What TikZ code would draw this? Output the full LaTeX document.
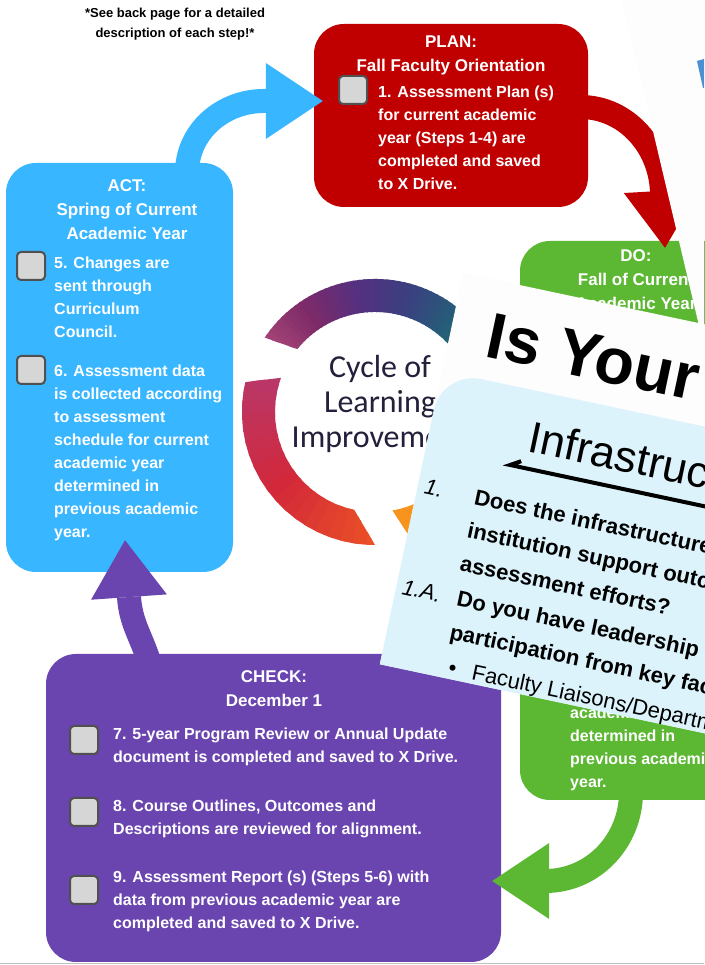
\documentclass[tikz,border=0pt]{standalone}
\usepackage{fontspec}
\setmainfont{Liberation Sans}
\newfontfamily\cyclefont{Carlito}
\usetikzlibrary{arrows.meta,positioning}

\definecolor{plancol}{RGB}{192,0,0}
\definecolor{docol}{RGB}{92,184,50}
\definecolor{checkcol}{RGB}{106,69,176}
\definecolor{actcol}{RGB}{56,182,255}
\definecolor{tickfill}{RGB}{214,214,214}
\definecolor{tickedge}{RGB}{80,80,80}
\definecolor{cardblue}{RGB}{220,243,251}
\definecolor{cardwhite}{RGB}{253,253,253}
\definecolor{pageblue}{RGB}{74,144,210}
\definecolor{cycletext}{RGB}{35,32,60}
% colours of the ring, top arc then left arc
\definecolor{ringa}{RGB}{170,70,120}
\definecolor{ringb}{RGB}{125,42,104}
\definecolor{ringc}{RGB}{85,48,128}
\definecolor{ringd}{RGB}{58,64,128}
\definecolor{ringe}{RGB}{37,95,120}
\definecolor{ringf}{RGB}{27,122,102}
\definecolor{ringg}{RGB}{184,56,107}
\definecolor{ringh}{RGB}{210,40,58}
\definecolor{ringi}{RGB}{238,84,36}
\definecolor{ringj}{RGB}{247,148,29}

\tikzset{
  stagebox/.style={rounded corners=30pt, inner sep=0pt},
  boxtitle/.style={text=white, font=\fontsize{17}{24}\selectfont\bfseries, align=center, inner sep=0pt, anchor=north},
  boxitem/.style={text=white, font=\fontsize{16}{23}\selectfont\bfseries, align=left, inner sep=0pt, anchor=north west},
  tickbox/.style={draw=tickedge, fill=tickfill, line width=2pt, rounded corners=4pt, minimum size=28pt, inner sep=0pt},
  flow/.style={draw=#1, line width=24pt, -{Triangle[length=57pt, width=76pt, line width=0pt]}},
  cardline/.style={anchor=base west, inner sep=0pt, transform shape, font=\fontsize{22}{22}\selectfont\bfseries},
}

\begin{document}
\begin{tikzpicture}[x=1pt, y=1pt]
  \useasboundingbox (0,0) rectangle (704,965);
  \fill[white] (0,0) rectangle (704,965);

  \node[font=\fontsize{13}{20}\selectfont\bfseries, align=center] (note) at (175,941)
    {*See back page for a detailed\\description of each step!*};

  % ring around the centre
  \begin{scope}[shift={(375,553)}]
    \begin{scope}
      \clip (146:133) arc[start angle=146, end angle=15, radius=133]
        -- (15:100) arc[start angle=15, end angle=141, radius=100] -- cycle;
      \foreach \a/\b/\ca/\cb in {150/125/ringa/ringb, 125/100/ringb/ringc, 100/75/ringc/ringd,
                                 75/50/ringd/ringe, 50/10/ringe/ringf}
        \foreach \t in {0,...,9} {
          \pgfmathtruncatemacro\p{\t*10}
          \pgfmathsetmacro\s{\a+(\b-\a)*\t/10}
          \pgfmathsetmacro\e{\a+(\b-\a)*(\t+1.4)/10}
          \fill[\cb!\p!\ca] (0,0) -- (\s:140) arc[start angle=\s, end angle=\e, radius=140] -- cycle;
        }
    \end{scope}
    \begin{scope}
      \clip (167:133) arc[start angle=167, end angle=270, radius=133]
        -- (258:100) arc[start angle=258, end angle=160, radius=100] -- cycle;
      \foreach \a/\b/\ca/\cb in {158/215/ringg/ringh, 215/272/ringh/ringi}
        \foreach \t in {0,...,9} {
          \pgfmathtruncatemacro\p{\t*10}
          \pgfmathsetmacro\s{\a+(\b-\a)*\t/10}
          \pgfmathsetmacro\e{\a+(\b-\a)*(\t+1.4)/10}
          \fill[\cb!\p!\ca] (0,0) -- (\s:140) arc[start angle=\s, end angle=\e, radius=140] -- cycle;
        }
    \end{scope}
    \fill[ringj] (286:133) arc[start angle=286, end angle=345, radius=133]
      -- (345:100) arc[start angle=345, end angle=280, radius=100] -- cycle;
  \end{scope}

  \node[font=\cyclefont\fontsize{32}{35}\selectfont, text=cycletext, align=center] (cycle) at (380,561)
    {Cycle of\\Learning\\Improvement};

  % the four stages
  \node[stagebox, fill=plancol, minimum width=274pt, minimum height=183pt] (plan) at (451,849.5) {};
  \node[stagebox, fill=actcol, minimum width=227pt, minimum height=409pt] (act) at (119.5,597.5) {};
  \node[stagebox, fill=docol, minimum width=230pt, minimum height=559pt] (do) at (635,444.5) {};
  \node[stagebox, fill=checkcol, minimum width=455pt, minimum height=308pt] (check) at (273.5,157) {};

  \node[boxtitle] (plantitle) at (451,929) {PLAN:\\Fall Faculty Orientation};
  \node[boxtitle] (acttitle) at (127,786) {ACT:\\Spring of Current\\Academic Year};
  \node[boxtitle] (dotitle) at (636,716) {DO:\\Fall of Current\\Academic Year};
  \node[boxtitle] (checktitle) at (274,295) {CHECK:\\December 1};

  \node[tickbox] (planbox) at (353,875) {};
  \node[boxitem] (planone) at (378,879)
    {1. Assessment Plan (s)\\for current academic\\year (Steps 1-4) are\\completed and saved\\to X Drive.};

  \node[tickbox] (actbox1) at (31,699) {};
  \node[boxitem] (actone) at (54,708)
    {5. Changes are\\sent through\\Curriculum\\Council.};
  \node[tickbox] (actbox2) at (31,595) {};
  \node[boxitem] (acttwo) at (54,600)
    {6. Assessment data\\is collected according\\to assessment\\schedule for current\\academic year\\determined in\\previous academic\\year.};

  \node[boxitem] (dolast) at (570,258)
    {academic year\\determined in\\previous academic\\year.};

  \node[tickbox] (checkbox1) at (84,225) {};
  \node[boxitem] (checkone) at (113,237)
    {7. 5-year Program Review or Annual Update\\document is completed and saved to X Drive.};
  \node[tickbox] (checkbox2) at (84,153) {};
  \node[boxitem] (checktwo) at (113,165)
    {8. Course Outlines, Outcomes and\\Descriptions are reviewed for alignment.};
  \node[tickbox] (checkbox3) at (84,75) {};
  \node[boxitem] (checkthree) at (113,94)
    {9. Assessment Report (s) (Steps 5-6) with\\data from previous academic year are\\completed and saved to X Drive.};

  % arrows between the stages
  \draw[flow=actcol] ([xshift=67.5pt,yshift=-10pt]act.north) to[out=90,in=180]
    ([xshift=-50pt,yshift=14.5pt]plan.west) -- ([xshift=9pt,yshift=14.5pt]plan.west);
  \draw[flow=plancol] ([xshift=-8pt,yshift=8.5pt]plan.east) to[out=0,in=90]
    ([xshift=27pt,yshift=46pt]do.north) -- ([xshift=30pt,yshift=-7pt]do.north);
  \draw[flow=docol] ([xshift=-4pt,yshift=8pt]do.south) to[out=-90,in=0]
    ([xshift=44pt,yshift=-73pt]check.east) -- ([xshift=-9pt,yshift=-73pt]check.east);
  \draw[flow=checkcol] ([xshift=-125pt,yshift=-6pt]check.north) to[out=108,in=-86]
    ([xshift=9.5pt,yshift=-25pt]act.south) -- ([xshift=5.5pt,yshift=32pt]act.south);

  % sheet lying over the top right
  \fill[cardwhite] (622,965) -- (704,965) -- (704,618) -- cycle;
  \fill[pageblue] (697,904) -- (704,906) -- (704,877) -- (703,877) -- cycle;

  % tilted card
  \begin{scope}[shift={(463,692)}, rotate=-12]
    \fill[cardwhite] (0,0) rectangle (520,-400);
    \begin{scope}
      \clip (0,0) rectangle (520,-400);
      \fill[cardblue] (0,-400) -- (0,-140) arc[start angle=180, end angle=90, radius=40]
        -- (520,-100) -- (520,-400) -- cycle;
      \node[cardline, font=\fontsize{65}{65}\selectfont\bfseries] (cardhead) at (37,-77) {Is Your};
      \node[cardline, font=\fontsize{44}{44}\selectfont] (cardsub) at (99,-161) {Infrastructure};
      \draw[line width=4pt] (96,-172) -- (86,-178) -- (520,-178);
      \node[cardline, font=\fontsize{22}{22}\selectfont\itshape] (qone) at (7,-224) {1.};
      \node[cardline] (qonea) at (58,-224) {Does the infrastructure};
      \node[cardline] (qoneb) at (58,-258) {institution support outcomes};
      \node[cardline] (qonec) at (58,-292) {assessment efforts?};
      \node[cardline, font=\fontsize{22}{22}\selectfont\itshape] (qtwo) at (6,-327) {1.A.};
      \node[cardline] (qtwoa) at (62,-327) {Do you have leadership};
      \node[cardline] (qtwob) at (62,-361) {participation from key faculty};
      \node[cardline, font=\fontsize{22}{22}\selectfont] (bullet) at (68,-396) {\textbullet};
      \node[cardline, font=\fontsize{22}{22}\selectfont] (liaison) at (92,-396) {Faculty Liaisons/Department};
    \end{scope}
  \end{scope}

  \draw[black!25, line width=1pt] (0,1.5) -- (704,1.5);
\end{tikzpicture}
\end{document}
